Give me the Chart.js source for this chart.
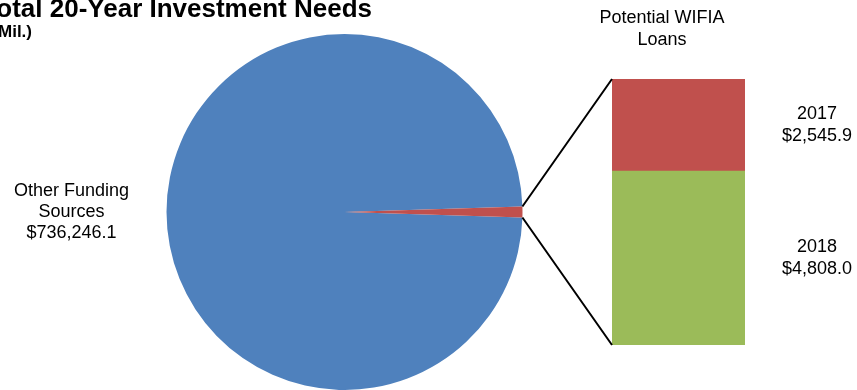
<!DOCTYPE html>
<html>
<head>
<meta charset="utf-8">
<script src="https://cdn.jsdelivr.net/npm/chart.js@4.4.1/dist/chart.umd.min.js"></script>
<style>
  html, body { margin: 0; padding: 0; background: #fff; }
  #wrap { position: relative; width: 857px; height: 390px; overflow: hidden; }
  #wrap canvas { position: absolute; left: 0; top: 0; }
</style>
</head>
<body>
<div id="wrap">
  <canvas id="pieChart" width="857" height="390"></canvas>
  <canvas id="barChart" width="857" height="390"></canvas>
</div>
<script>
// Pie: all funding ($ Mil.)
const pieLabels = ['Other Funding Sources', 'Potential WIFIA Loans'];
const pieValues = [736246.1, 7353.9];
const pieColors = ['#4F81BD', '#C0504D'];

// Bar of pie: WIFIA loans split by year, bottom to top
const barYears = ['2018', '2017'];
const barValues = [4808.0, 2545.9];
const barColors = ['#9BBB59', '#C0504D'];

const FONT = "'Liberation Sans', Arial, sans-serif";

const total = pieValues.reduce((a, b) => a + b, 0);
const wifiaShare = pieValues[1] / total;
const fmt = v => '$' + v.toLocaleString('en-US', {minimumFractionDigits: 1, maximumFractionDigits: 1});

// title, subtitle and pie label
const pieText = {
    id: 'pieText',
    afterDraw(chart) {
        const ctx = chart.ctx;
        const arc = chart.getDatasetMeta(0).data[0];
        ctx.save();
        ctx.fillStyle = '#000';
        ctx.textAlign = 'right';
        ctx.textBaseline = 'alphabetic';
        ctx.font = 'bold 26px ' + FONT;
        ctx.fillText('Total 20-Year Investment Needs', 372, 17);
        ctx.font = 'bold 17px ' + FONT;
        ctx.fillText('(Mil.)', 32, 37);

        ctx.textAlign = 'center';
        ctx.textBaseline = 'middle';
        ctx.font = '18px ' + FONT;
        const lx = arc.x - 273, ly = arc.y;
        ctx.fillText('Other Funding', lx, ly - 21);
        ctx.fillText('Sources', lx, ly);
        ctx.fillText(fmt(pieValues[0]), lx, ly + 21);
        ctx.restore();
    }
};

const pieChart = new Chart(document.getElementById('pieChart'), {
    type: 'pie',
    data: {
        labels: pieLabels,
        datasets: [{ data: pieValues, backgroundColor: pieColors, borderWidth: 0 }]
    },
    options: {
        responsive: false,
        animation: false,
        // centre the small slice on 3 o'clock
        rotation: 90 + 180 * wifiaShare,
        layout: { padding: { left: 166, right: 334, top: 34, bottom: 0 } },
        plugins: { legend: { display: false }, tooltip: { enabled: false } }
    },
    plugins: [pieText]
});

// connector lines + bar labels
const barText = {
    id: 'barText',
    afterDatasetsDraw(chart) {
        const ctx = chart.ctx;
        const slice = pieChart.getDatasetMeta(0).data[1];
        const top = chart.getDatasetMeta(1).data[0];
        const bottom = chart.getDatasetMeta(0).data[0];
        const left = top.x - top.width / 2;

        ctx.save();
        ctx.strokeStyle = '#000';
        ctx.lineWidth = 2;
        const r = slice.outerRadius;
        ctx.beginPath();
        ctx.moveTo(slice.x + r * Math.cos(slice.startAngle), slice.y + r * Math.sin(slice.startAngle));
        ctx.lineTo(left, top.y);
        ctx.moveTo(slice.x + r * Math.cos(slice.endAngle), slice.y + r * Math.sin(slice.endAngle));
        ctx.lineTo(left, bottom.base);
        ctx.stroke();

        ctx.fillStyle = '#000';
        ctx.textAlign = 'center';
        ctx.textBaseline = 'middle';
        ctx.font = '18px ' + FONT;
        ctx.fillText('Potential WIFIA', left + 50, 18);
        ctx.fillText('Loans', left + 50, 40);

        const tx = top.x + top.width / 2 + 72;
        chart.data.datasets.forEach((ds, i) => {
            const el = chart.getDatasetMeta(i).data[0];
            const cy = (el.y + el.base) / 2;
            ctx.fillText(ds.label, tx, cy - 11);
            ctx.fillText(fmt(ds.data[0]), tx, cy + 11);
        });
        ctx.restore();
    }
};

new Chart(document.getElementById('barChart'), {
    type: 'bar',
    data: {
        labels: ['WIFIA'],
        datasets: barYears.map((yr, i) => ({
            label: yr,
            data: [barValues[i]],
            backgroundColor: barColors[i],
            borderWidth: 0,
            barPercentage: 1,
            categoryPercentage: 1
        }))
    },
    options: {
        responsive: false,
        animation: false,
        layout: { padding: { left: 612, right: 112, top: 79, bottom: 45 } },
        scales: {
            x: { display: false, stacked: true },
            y: { display: false, stacked: true, min: 0, max: barValues.reduce((a, b) => a + b, 0) }
        },
        plugins: { legend: { display: false }, tooltip: { enabled: false } }
    },
    plugins: [barText]
});
</script>
</body>
</html>
